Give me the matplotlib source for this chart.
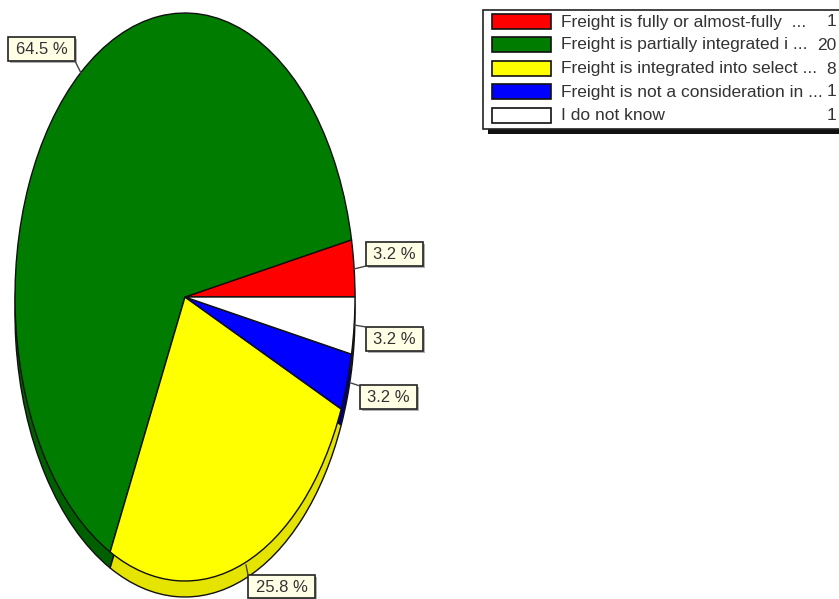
import matplotlib
matplotlib.use('Agg')
import matplotlib.pyplot as plt
from matplotlib.patches import Rectangle

W, H = 839, 599

labels = ['Freight is fully or almost-fully  ...', 'Freight is partially integrated i ...',
          'Freight is integrated into select ...', 'Freight is not a consideration in ...',
          'I do not know']
counts = [1, 20, 8, 1, 1]
percents = ['3.2 %', '64.5 %', '25.8 %', '3.2 %', '3.2 %']
colors = ['#ff0000', '#007c00', '#ffff00', '#0000ff', '#ffffff']
side_colors = ['#e00000', '#006000', '#e4e400', '#000080', '#202020']

# pixel boxes of the value labels (left, top, width, height) and their leader lines
label_boxes = [(366, 242, 57, 24), (8, 37, 67, 24), (248, 575, 67, 23), (360, 385, 57, 24), (366, 327, 57, 24)]
leaders = [((354, 269), (366, 266)), ((81, 73), (75, 61)), ((246, 565), (248, 575)),
           ((351, 383), (360, 386)), ((354, 325), (366, 327))]
legend_rows = [22, 45, 69, 92, 116]

plt.rcParams['font.family'] = ['Liberation Sans', 'DejaVu Sans']

fig = plt.figure(figsize=(W / 100, H / 100), dpi=100, facecolor='white')

# the pie is a unit circle stretched by the axes box
left, right, top, bottom = 15, 355, 13, 581
ax = fig.add_axes([left / W, 1 - bottom / H, (right - left) / W, (bottom - top) / H])
depth = 16 / ((bottom - top) / 2)
ax.pie(counts, colors=side_colors, startangle=0, counterclock=True, center=(0, -depth),
       wedgeprops={'edgecolor': '#101010', 'linewidth': 1.0, 'clip_on': False})
ax.pie(counts, colors=colors, startangle=0, counterclock=True,
       wedgeprops={'edgecolor': '#101010', 'linewidth': 1.0, 'clip_on': False})
ax.set_aspect('auto')
ax.set_xlim(-1, 1)
ax.set_ylim(-1, 1)
ax.axis('off')

# overlay in pixel coordinates for legend and value labels
ov = fig.add_axes([0, 0, 1, 1])
ov.set_xlim(0, W)
ov.set_ylim(H, 0)
ov.axis('off')
ov.patch.set_alpha(0)

# legend box with its heavy shadow
ov.add_patch(Rectangle((488, 129), 351, 5, fc='#111111', ec='none'))
ov.add_patch(Rectangle((483, 10), 360, 119, fc='white', ec='#222222', lw=1.2))
for y, name, n, c in zip(legend_rows, labels, counts, colors):
    ov.add_patch(Rectangle((492, y - 8), 59, 15, fc=c, ec='#111111', lw=1.2))
    ov.text(561, y, name, fontsize=12.5, va='center', ha='left', color='#333333')
    ov.text(836, y, str(n), fontsize=12.5, va='center', ha='right', color='#333333')

# value labels
for (x, y, w, h), (p0, p1), txt in zip(label_boxes, leaders, percents):
    ov.plot([p0[0], p1[0]], [p0[1], p1[1]], color='#444444', lw=1)
    ov.add_patch(Rectangle((x + 2, y + 2), w, h, fc='#b0b0b0', ec='none'))
    ov.add_patch(Rectangle((x, y), w, h, fc='#ffffe6', ec='#222222', lw=1.2))
    ov.text(x + w / 2, y + h / 2 + 0.5, txt, fontsize=12, ha='center', va='center', color='#333333')

fig.savefig('out.png', dpi=100)
